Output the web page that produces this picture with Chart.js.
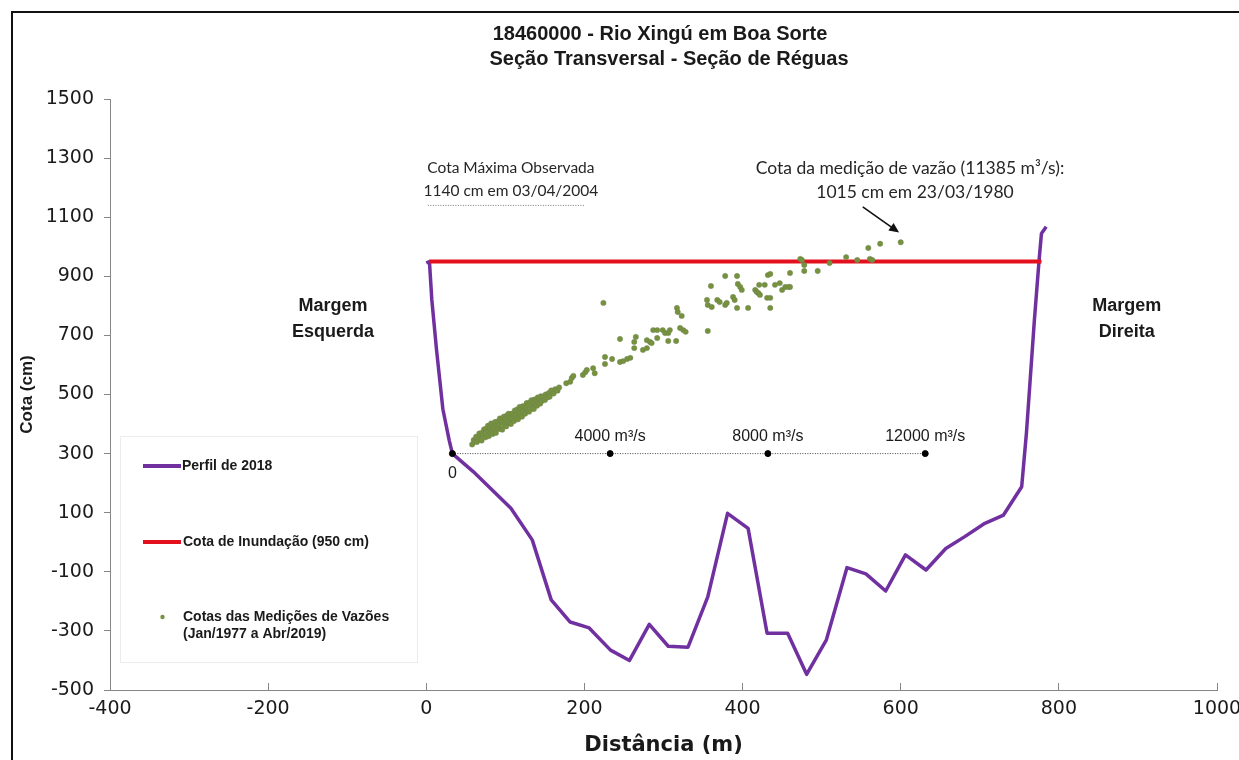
<!DOCTYPE html>
<html>
<head>
<meta charset="utf-8">
<script src="https://cdn.jsdelivr.net/npm/chart.js@4.4.0/dist/chart.umd.min.js"></script>
<style>
  html, body { margin: 0; padding: 0; background: #fff; }
</style>
</head>
<body>
<canvas id="chart" width="1239" height="760"></canvas>
<script>
// Perfil da seção (distância m, cota cm)
const perfilX = [0, 4, 7, 13, 21, 29, 33, 59, 107, 134, 158, 182, 206, 233, 257, 282, 306, 331, 356, 381, 407, 431, 457, 481, 506, 532, 556, 581, 606, 632, 657, 681, 705, 730, 753, 759, 769, 775, 778, 784];
const perfilY = [945, 950, 820, 650, 450, 345, 300, 240, 115, 8, -195, -270, -290, -365, -400, -278, -352, -355, -185, 98, 47, -308, -308, -447, -330, -86, -107, -165, -43, -94, -21, 19, 62, 92, 188, 370, 750, 955, 1045, 1068];

// Cota de inundação
const inundX = [4, 778];
const inundY = [950, 950];

// Cota máxima observada (linha pontilhada)
const maxObsX = [2, 200];
const maxObsY = [1140, 1140];

// Escala de vazões
const escalaX = [33, 232.5, 432, 631];
const escalaLabels = ['0', '4000 m³/s', '8000 m³/s', '12000 m³/s'];
const escalaCota = 300;

// Cotas das medições de vazões
const medX = [58, 60, 61, 63, 64, 66, 67, 68, 70, 70, 72, 73, 75, 75, 77, 78, 79, 80, 81, 82, 83, 84, 85, 86, 87, 88,
  89, 90, 91, 92, 93, 94, 95, 96, 97, 98, 99, 100, 101, 102, 103, 104, 105, 106, 107, 108, 109, 110, 111, 112, 113,
  114, 115, 116, 117, 118, 119, 120, 121, 122, 123, 124, 125, 126, 127, 128, 129, 130, 131, 132, 133, 134, 135, 136,
  137, 138, 139, 140, 141, 142, 143, 144, 145, 146, 148, 150, 151, 153, 155, 156, 158, 161, 163, 166, 168,
  177, 182, 184, 186, 198, 201, 203, 211, 213,
  224, 226, 226, 235, 245, 249, 254, 258, 245, 263, 263, 265, 274, 279, 279, 283, 285, 292, 287, 292, 299, 302, 306,
  308, 306, 316, 317, 318, 323, 321, 325, 328, 356, 360, 355, 356, 361, 368, 371, 378, 380, 388, 390, 393, 394, 378,
  393, 397, 399, 407, 416, 418, 420, 422, 421, 428, 432, 435, 431, 435, 435, 441, 447, 450, 454, 458, 460, 460, 473,
  475, 478, 478, 495, 510, 531, 545, 561, 564, 559, 574, 600];
const medY = [331, 346, 340, 357, 339, 354, 368, 347, 370, 344, 362, 382, 355, 383, 372, 394, 359, 388, 371, 402, 386,
  366, 391, 381, 407, 370,
  394, 408, 383, 396, 419, 384, 412, 381, 406, 425, 398, 418, 392, 429, 409, 435, 404, 424, 400, 435, 415, 433, 410,
  446, 430,
  419, 449, 416, 440, 458, 429, 451, 425, 460, 444, 460, 435, 455, 471, 444, 464, 442, 473, 461, 481, 452, 472, 451,
  483, 467, 482, 462, 490, 471, 487, 469, 494, 478,
  493, 481, 500, 490, 505, 492, 514, 503, 518, 513, 524,
  538, 543, 556, 563, 566, 575, 583, 589, 572,
  810, 627, 603, 620, 610, 613, 620, 624, 688, 678, 657, 695, 651, 657, 684, 678, 674, 691, 718, 718, 718, 708, 708,
  718, 681, 681, 793, 779, 766, 725, 718, 712, 715, 867, 820, 803, 796, 820, 813, 803, 810, 830, 820, 793, 874, 901,
  901, 864, 854, 793, 854, 847, 843, 837, 871, 871, 904, 908, 827, 827, 793, 871, 877, 854, 864, 864, 864, 911, 959,
  955, 938, 918, 918, 945, 965, 955, 959, 955, 996, 1010, 1015];

const xy = (xs, ys) => xs.map((x, i) => ({ x: x, y: ys[i] }));

const ROXO = '#7030A0';
const VERMELHO = '#E5101D';
const VERDE = '#76923C';

// Anotações, legenda e moldura
const extras = {
    id: 'extras',
    beforeDraw(chart) {
        const ctx = chart.ctx;
        ctx.save();
        ctx.fillStyle = '#fff';
        ctx.fillRect(0, 0, chart.width, chart.height);
        ctx.strokeStyle = '#111';
        ctx.lineWidth = 2;
        ctx.beginPath();
        ctx.moveTo(12, chart.height);
        ctx.lineTo(12, 12);
        ctx.lineTo(chart.width, 12);
        ctx.stroke();
        ctx.restore();
    },
    afterDraw(chart) {
        const ctx = chart.ctx;
        const xs = chart.scales.x, ys = chart.scales.y;
        const px = v => xs.getPixelForValue(v);
        const py = v => ys.getPixelForValue(v);
        ctx.save();
        ctx.fillStyle = '#1a1a1a';
        ctx.textAlign = 'center';
        ctx.textBaseline = 'middle';

        // título
        ctx.font = 'bold 20px "Liberation Sans", Arial, sans-serif';
        ctx.fillText('18460000 - Rio Xingú em Boa Sorte', 660, 34);
        ctx.fillText('Seção Transversal - Seção de Réguas', 669, 59);

        // margens
        ctx.font = 'bold 18px "Liberation Sans", Arial, sans-serif';
        ctx.fillText('Margem', px(-118), 306);
        ctx.fillText('Esquerda', px(-118), 332);
        ctx.fillText('Margem', px(886), 306);
        ctx.fillText('Direita', px(886), 332);

        // textos das cotas
        ctx.fillStyle = '#262626';
        ctx.font = '15.5px Lato, "Open Sans", sans-serif';
        ctx.fillText('Cota Máxima Observada', px(107), 168);
        ctx.fillText('1140 cm em 03/04/2004', px(107), 191);
        ctx.font = '17.5px Lato, "Open Sans", sans-serif';
        ctx.fillText('Cota da medição de vazão (11385 m³/s):', 910, 168);
        ctx.fillText('1015 cm em 23/03/1980', 915, 192);

        // seta
        const ax0 = px(552), ay0 = py(1135), ax1 = px(598), ay1 = py(1048);
        const ang = Math.atan2(ay1 - ay0, ax1 - ax0);
        ctx.strokeStyle = '#111';
        ctx.fillStyle = '#111';
        ctx.lineWidth = 1.6;
        ctx.beginPath();
        ctx.moveTo(ax0, ay0);
        ctx.lineTo(ax1 - 6 * Math.cos(ang), ay1 - 6 * Math.sin(ang));
        ctx.stroke();
        ctx.beginPath();
        ctx.moveTo(ax1, ay1);
        ctx.lineTo(ax1 - 10 * Math.cos(ang) + 4.5 * Math.sin(ang), ay1 - 10 * Math.sin(ang) - 4.5 * Math.cos(ang));
        ctx.lineTo(ax1 - 10 * Math.cos(ang) - 4.5 * Math.sin(ang), ay1 - 10 * Math.sin(ang) + 4.5 * Math.cos(ang));
        ctx.closePath();
        ctx.fill();

        // rótulos da escala de vazões
        ctx.fillStyle = '#1a1a1a';
        ctx.font = '16px "Liberation Sans", Arial, sans-serif';
        escalaX.forEach((v, i) => {
            if (i === 0) ctx.fillText(escalaLabels[i], px(v), py(escalaCota) + 20);
            else ctx.fillText(escalaLabels[i], px(v), py(escalaCota) - 17);
        });

        // legenda
        ctx.strokeStyle = '#ececec';
        ctx.lineWidth = 1;
        ctx.strokeRect(120.5, 436.5, 297, 226);
        ctx.lineWidth = 4;
        ctx.strokeStyle = ROXO;
        ctx.beginPath(); ctx.moveTo(143, 466); ctx.lineTo(181, 466); ctx.stroke();
        ctx.strokeStyle = VERMELHO;
        ctx.beginPath(); ctx.moveTo(143, 542); ctx.lineTo(181, 542); ctx.stroke();
        ctx.fillStyle = VERDE;
        ctx.beginPath(); ctx.arc(162.5, 617, 2.2, 0, Math.PI * 2); ctx.fill();
        ctx.fillStyle = '#1a1a1a';
        ctx.textAlign = 'left';
        ctx.font = 'bold 14px "Liberation Sans", Arial, sans-serif';
        ctx.fillText('Perfil de 2018', 182, 466);
        ctx.fillText('Cota de Inundação (950 cm)', 183, 542);
        ctx.fillText('Cotas das Medições de Vazões', 183, 617);
        ctx.fillText('(Jan/1977 a Abr/2019)', 183, 634);
        ctx.restore();
    }
};

new Chart(document.getElementById('chart'), {
    type: 'scatter',
    data: {
        datasets: [
            {
                label: 'Cotas das Medições de Vazões (Jan/1977 a Abr/2019)',
                data: xy(medX, medY),
                showLine: false,
                pointRadius: 2.7,
                pointBackgroundColor: VERDE,
                pointBorderColor: 'rgba(110,125,90,0.6)',
                pointBorderWidth: 0.6
            },
            {
                label: 'Escala de vazões',
                data: escalaX.map(v => ({ x: v, y: escalaCota })),
                showLine: true,
                borderColor: '#444',
                borderWidth: 1,
                borderDash: [1, 1.5],
                pointRadius: 3,
                pointBackgroundColor: '#000',
                pointBorderColor: '#000'
            },
            {
                label: 'Cota Máxima Observada',
                data: xy(maxObsX, maxObsY),
                showLine: true,
                borderColor: '#777',
                borderWidth: 1,
                borderDash: [1, 1.5],
                pointRadius: 0
            },
            {
                label: 'Cota de Inundação (950 cm)',
                data: xy(inundX, inundY),
                showLine: true,
                borderColor: VERMELHO,
                borderWidth: 4,
                pointRadius: 0
            },
            {
                label: 'Perfil de 2018',
                data: xy(perfilX, perfilY),
                showLine: true,
                borderColor: ROXO,
                borderWidth: 3.5,
                borderJoinStyle: 'round',
                tension: 0,
                pointRadius: 0
            }
        ]
    },
    options: {
        responsive: false,
        animation: false,
        layout: { padding: { top: 99, right: 22, bottom: 0, left: 0 } },
        plugins: {
            legend: { display: false },
            tooltip: { enabled: false }
        },
        scales: {
            x: {
                type: 'linear',
                min: -400,
                max: 1000,
                afterFit: s => { s.height = 70; s.paddingRight = 0; s.paddingLeft = 0; },
                ticks: {
                    stepSize: 200,
                    color: '#1a1a1a',
                    padding: 15,
                    callback: v => String(v),
                    font: { family: '"DejaVu Sans", sans-serif', size: 19 }
                },
                grid: { drawOnChartArea: false, tickLength: -7, color: '#868686' },
                border: { color: '#868686', width: 1 },
                title: {
                    display: true,
                    text: 'Distância (m)',
                    color: '#1a1a1a',
                    padding: { top: 0, bottom: 2 },
                    font: { family: '"DejaVu Sans", sans-serif', size: 21, weight: 'bold' }
                }
            },
            y: {
                min: -500,
                max: 1500,
                afterFit: s => { s.width = 110; },
                ticks: {
                    stepSize: 200,
                    color: '#1a1a1a',
                    padding: 10,
                    callback: v => String(v),
                    font: { family: '"DejaVu Sans", sans-serif', size: 19 }
                },
                grid: { drawOnChartArea: false, tickLength: 6, color: '#868686' },
                border: { color: '#868686', width: 1 },
                title: {
                    display: true,
                    text: 'Cota (cm)',
                    color: '#1a1a1a',
                    padding: { top: 17, bottom: 0 },
                    font: { family: '"Liberation Sans", Arial, sans-serif', size: 17, weight: 'bold' }
                }
            }
        }
    },
    plugins: [extras]
});
</script>
</body>
</html>
